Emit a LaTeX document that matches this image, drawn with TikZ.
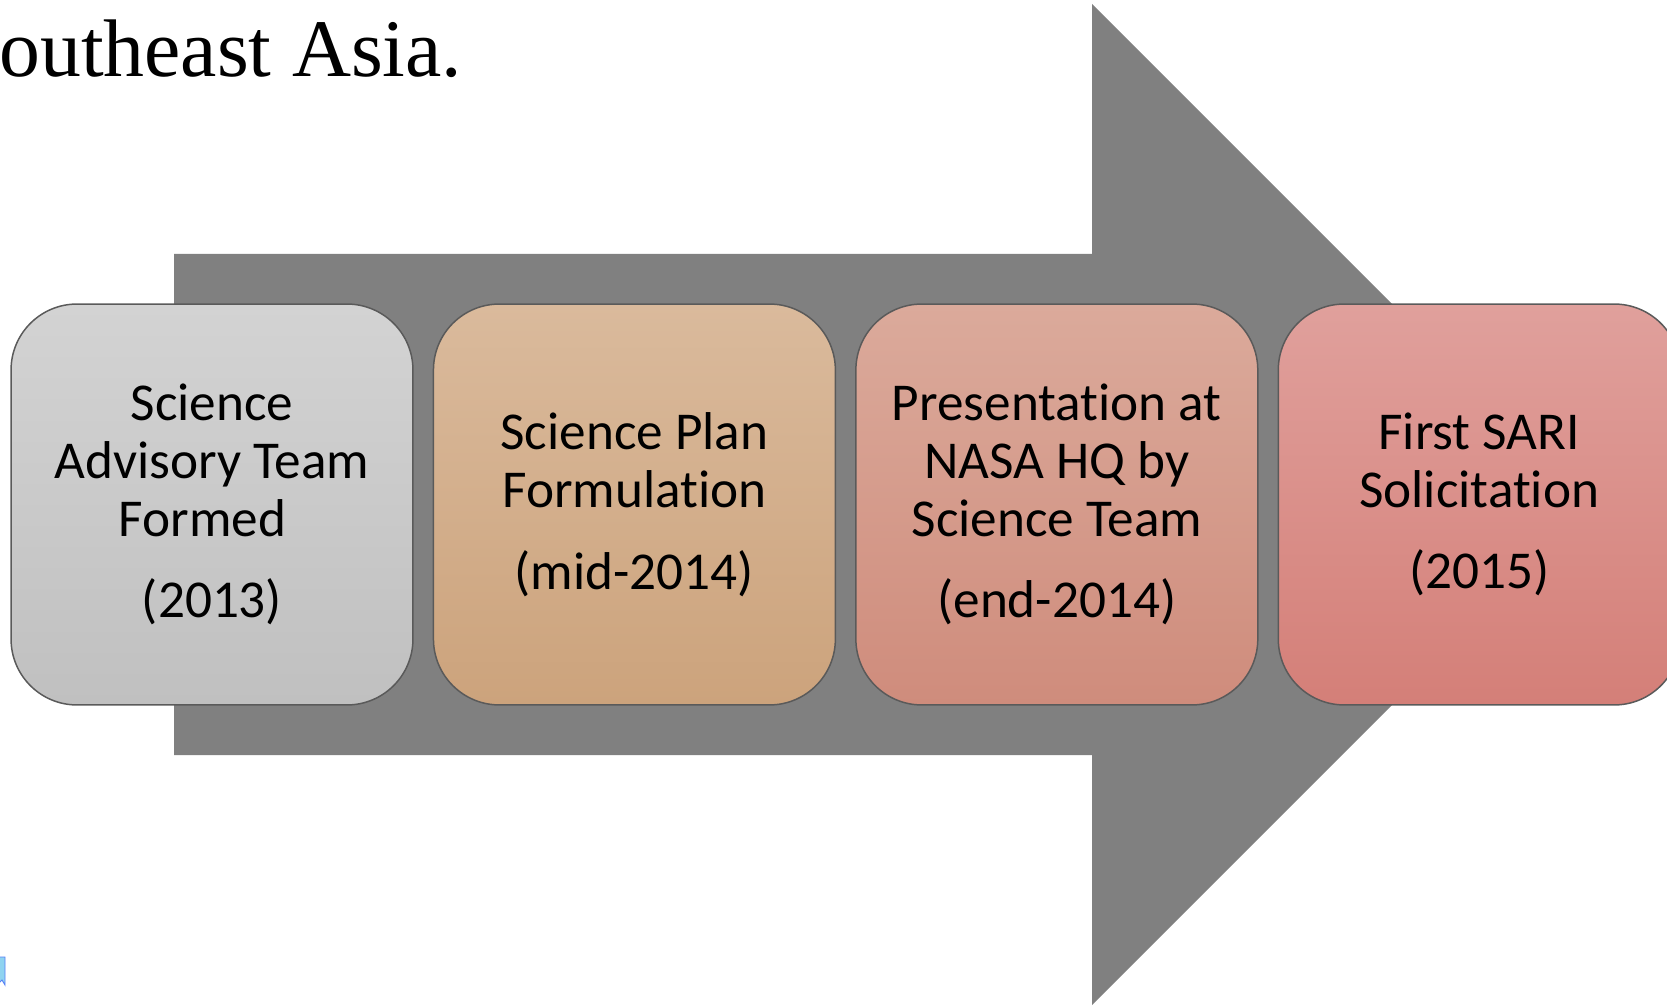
\documentclass[tikz,border=0pt]{standalone}
\usepackage{fontspec}
\setmainfont{Carlito}[RawFeature=-liga]
\newfontfamily\titlefont{Liberation Serif}
\usetikzlibrary{positioning}
\definecolor{arrowgray}{HTML}{808080}
\definecolor{boxline}{HTML}{5A5A5A}
\definecolor{greytop}{HTML}{D3D3D3}
\definecolor{greybot}{HTML}{C0C0C0}
\definecolor{tantop}{HTML}{DABA9C}
\definecolor{tanbot}{HTML}{CCA37C}
\definecolor{salmontop}{HTML}{DBAA9B}
\definecolor{salmonbot}{HTML}{CF8C7C}
\definecolor{rosetop}{HTML}{E0A09C}
\definecolor{rosebot}{HTML}{D47F78}
\definecolor{markblue}{HTML}{8FD3F0}
\tikzset{
  stage/.style={draw=boxline,line width=0.85pt,rounded corners=1.32cm,
    minimum width=8.04cm,minimum height=8.02cm,inner sep=0pt,outer sep=0pt,
    align=center,font=\fontsize{30.3}{33}\selectfont},
  grey stage/.style={stage,top color=greytop,bottom color=greybot},
  tan stage/.style={stage,top color=tantop,bottom color=tanbot},
  salmon stage/.style={stage,top color=salmontop,bottom color=salmonbot},
  rose stage/.style={stage,top color=rosetop,bottom color=rosebot}
}

\begin{document}
\begin{tikzpicture}[x=0.02cm,y=-0.02cm,node distance=0.41cm]
    \useasboundingbox (0,0) rectangle (1667,1006);
    \clip (0,0) rectangle (1667,1006);
    % big arrow behind the boxes
    \fill[arrowgray] (174,254) -- (1092,254) -- (1092,4) -- (1592.5,504.5)
      -- (1092,1005) -- (1092,755) -- (174,755) -- cycle;
    \node[anchor=base west,inner sep=0pt,font=\titlefont\fontsize{46.5}{54}\selectfont]
      (title) at (-1,77) {outheast Asia.};
    \node[grey stage] (s1) at (212,504.5)
      {Science\\Advisory Team\\Formed\kern 11pt\\[13.5pt](2013)};
    \node[tan stage,right=of s1] (s2)
      {Science Plan\\Formulation\\[13.5pt](mid-2014)};
    \node[salmon stage,right=of s2] (s3)
      {Presentation at\\NASA HQ by\\Science Team\\[13.5pt](end-2014)};
    \node[rose stage,right=of s3] (s4)
      {First SARI\\Solicitation\\[13.5pt](2015)};
    \filldraw[fill=markblue,draw=markblue!60!blue,line width=0.5pt]
      (-2,957) -- (5,957) -- (5,985) -- (2,980) -- (-2,984) -- cycle;
\end{tikzpicture}
\end{document}
